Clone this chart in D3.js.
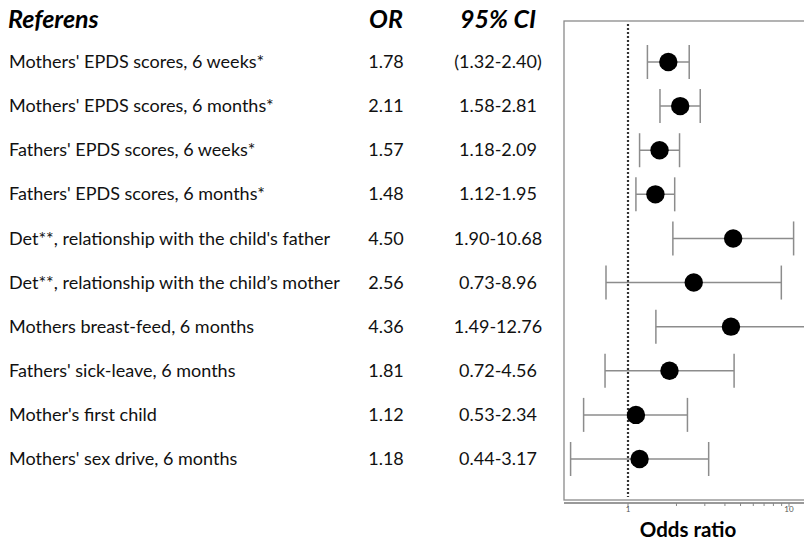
<!DOCTYPE html>
<html>
<head>
<meta charset="utf-8">
<script src="https://cdn.jsdelivr.net/npm/d3@7"></script>
<style>
  html, body { margin: 0; padding: 0; background: #fff; }
  svg { display: block; }
</style>
</head>
<body>
<svg id="chart" width="804" height="540"></svg>
<script>
// Forest plot: odds ratios with 95% confidence intervals
const labels = [
  "Mothers' EPDS scores, 6 weeks*",
  "Mothers' EPDS scores, 6 months*",
  "Fathers' EPDS scores, 6 weeks*",
  "Fathers' EPDS scores, 6 months*",
  "Det**, relationship with the child's father",
  "Det**, relationship with the child\u2019s mother",
  "Mothers breast-feed, 6 months",
  "Fathers' sick-leave, 6 months",
  "Mother's first child",
  "Mothers' sex drive, 6 months"
];
const oddsRatio = [1.78, 2.11, 1.57, 1.48, 4.50, 2.56, 4.36, 1.81, 1.12, 1.18];
const ciLower   = [1.32, 1.58, 1.18, 1.12, 1.90, 0.73, 1.49, 0.72, 0.53, 0.44];
const ciUpper   = [2.40, 2.81, 2.09, 1.95, 10.68, 8.96, 12.76, 4.56, 2.34, 3.17];
const ciText    = ["(1.32-2.40)", "1.58-2.81", "1.18-2.09", "1.12-1.95", "1.90-10.68",
                   "0.73-8.96", "1.49-12.76", "0.72-4.56", "0.53-2.34", "0.44-3.17"];
const headers   = ["Referens", "OR", "95% CI"];
const axisTitle = "Odds ratio";
const majorTicks = [1, 10];
const minorTicks = [2, 3, 4, 5, 6, 7, 8, 9];
const referenceValue = 1;

const svg = d3.select("#chart");
const font = "Lato, 'Open Sans', sans-serif";

// plot panel geometry
const panel = { left: 564, top: 21, bottom: 500 };
const axisY = 503;

const x = d3.scaleLog().domain([1, 10]).range([628, 789]);
const y = d3.scalePoint().domain(d3.range(labels.length)).range([62, 459]);

const colOR = 386, colCI = 498, colLabel = 9;

// header row
svg.append("g").attr("font-family", font).attr("font-weight", 700)
  .attr("font-style", "italic").attr("font-size", 25).attr("fill", "#000")
  .selectAll("text").data(headers).join("text")
  .attr("x", (d, i) => [8, colOR, colCI][i])
  .attr("y", 28)
  .attr("text-anchor", (d, i) => i === 0 ? "start" : "middle")
  .text(d => d);

// table text
const rows = svg.append("g").attr("font-family", font).attr("font-size", 18).attr("fill", "#111");
rows.selectAll("text.lab").data(labels).join("text").attr("class", "lab")
  .attr("x", colLabel).attr("y", (d, i) => y(i)).attr("dy", "0.34em").text(d => d);
rows.selectAll("text.or").data(oddsRatio).join("text").attr("class", "or")
  .attr("x", colOR).attr("y", (d, i) => y(i)).attr("dy", "0.34em")
  .attr("text-anchor", "middle").text(d => d.toFixed(2));
rows.selectAll("text.ci").data(ciText).join("text").attr("class", "ci")
  .attr("x", colCI).attr("y", (d, i) => y(i)).attr("dy", "0.34em")
  .attr("text-anchor", "middle").text(d => d);

// panel frame (right side runs off the page)
svg.append("rect")
  .attr("x", panel.left).attr("y", panel.top)
  .attr("width", 804 - panel.left + 10).attr("height", panel.bottom - panel.top)
  .attr("fill", "none").attr("stroke", "#8a8a8a").attr("stroke-width", 1.3);

// dotted line of no effect
svg.append("line")
  .attr("x1", x(referenceValue)).attr("x2", x(referenceValue))
  .attr("y1", panel.top + 3).attr("y2", panel.bottom - 3)
  .attr("stroke", "#333").attr("stroke-width", 2.2).attr("stroke-dasharray", "2,2");

// confidence intervals
const ci = svg.append("g").attr("stroke", "#8c8c8c").attr("stroke-width", 1.5);
const idx = d3.range(labels.length);
ci.selectAll("line.span").data(idx).join("line").attr("class", "span")
  .attr("x1", i => x(ciLower[i])).attr("x2", i => x(ciUpper[i]))
  .attr("y1", i => y(i)).attr("y2", i => y(i));
const caps = idx.flatMap(i => [{ i, v: ciLower[i] }, { i, v: ciUpper[i] }]);
ci.selectAll("line.cap").data(caps).join("line").attr("class", "cap")
  .attr("x1", d => x(d.v)).attr("x2", d => x(d.v))
  .attr("y1", d => y(d.i) - 17).attr("y2", d => y(d.i) + 17);

// point estimates
svg.append("g").selectAll("circle").data(idx).join("circle")
  .attr("cx", i => x(oddsRatio[i])).attr("cy", i => y(i)).attr("r", 9.2).attr("fill", "#000");

// log axis
const axis = svg.append("g").attr("transform", `translate(0,${axisY})`);
axis.append("line").attr("x1", panel.left).attr("x2", 804)
  .attr("stroke", "#777").attr("stroke-width", 1.5);
axis.selectAll("line.minor").data(minorTicks).join("line").attr("class", "minor")
  .attr("x1", d => x(d)).attr("x2", d => x(d)).attr("y1", 0).attr("y2", 3)
  .attr("stroke", "#888").attr("stroke-width", 1);
axis.selectAll("line.major").data(majorTicks).join("line").attr("class", "major")
  .attr("x1", d => x(d)).attr("x2", d => x(d)).attr("y1", 0).attr("y2", 4)
  .attr("stroke", "#888").attr("stroke-width", 1);
axis.selectAll("text").data(majorTicks).join("text")
  .attr("x", d => x(d)).attr("y", 9).attr("text-anchor", "middle")
  .attr("font-family", font).attr("font-size", 8).attr("fill", "#555").text(d => d);

svg.append("text").attr("x", 688).attr("y", 537).attr("text-anchor", "middle")
  .attr("font-family", font).attr("font-weight", 700).attr("font-size", 20.5).attr("fill", "#000")
  .text(axisTitle);
</script>
</body>
</html>
